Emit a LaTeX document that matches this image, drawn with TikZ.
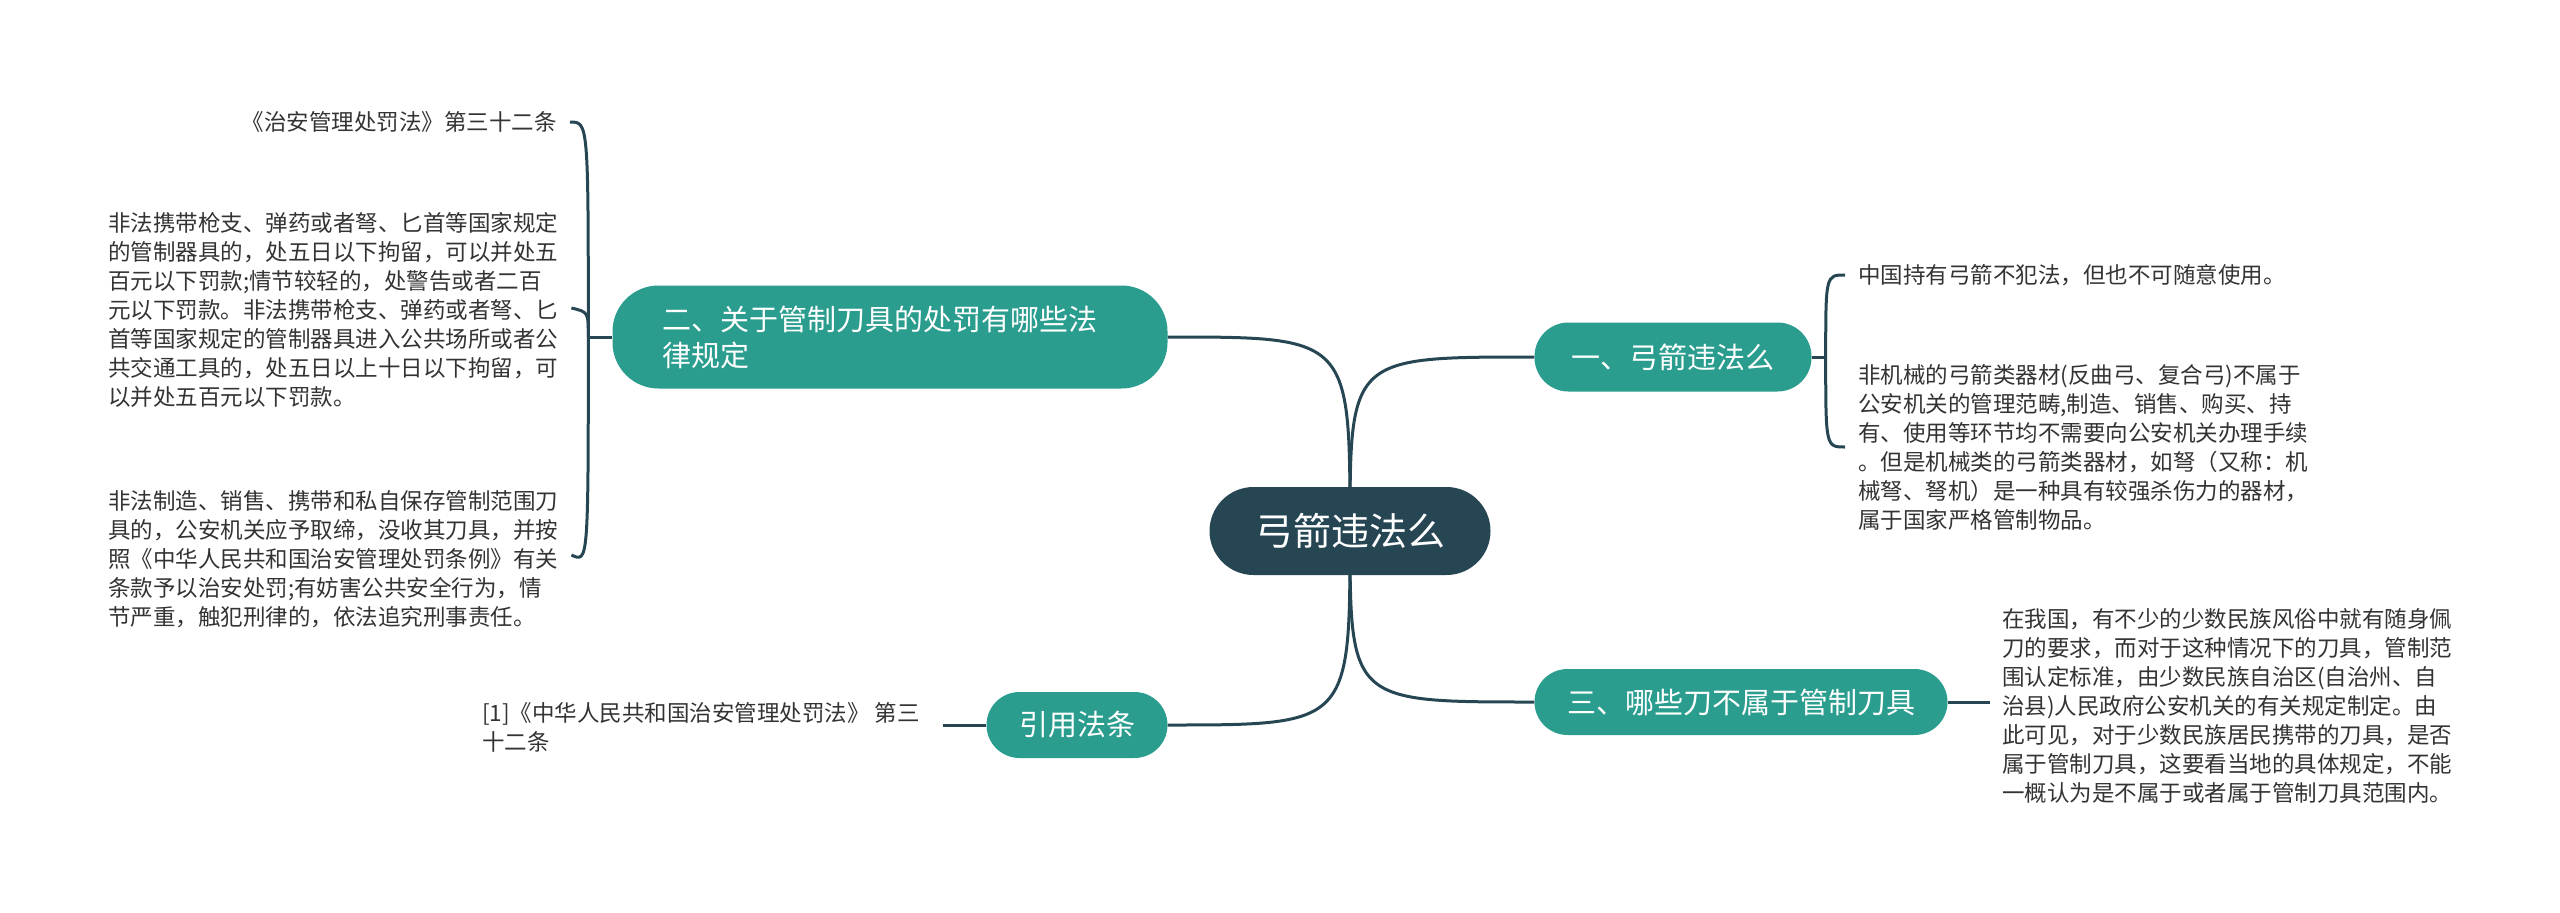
\documentclass[tikz,border=0pt]{standalone}
\usepackage{fontspec}
\newfontfamily\cjk{Noto Sans CJK SC}
\usepackage{tikz}
\usetikzlibrary{backgrounds,calc}
\definecolor{dunkel}{HTML}{264653}
\definecolor{petrol}{HTML}{2A9D8F}
\definecolor{schrift}{HTML}{333333}

\begin{document}
\begin{tikzpicture}[x=1pt, y=-1pt,
          kern/.style={fill=dunkel, text=white, rounded corners=44pt, minimum width=281pt, minimum height=88pt, inner sep=0pt, font=\cjk\fontsize{38}{44}\selectfont},
          ast/.style={fill=petrol, text=white, rounded corners=33pt, minimum height=66pt, inner sep=0pt, font=\cjk\fontsize{29}{36}\selectfont},
          blatt/.style={text=schrift, align=left, inner sep=0pt, font=\cjk\fontsize{22.5}{29}\selectfont},
          kante/.style={draw=dunkel, line width=3pt}
        ]
          \useasboundingbox (0,0) rectangle (2560,913);

          % Kern
          \node[kern] (kern) at (1350,531) {弓箭违法么};

          % Äste
          \node[ast, minimum width=277pt, minimum height=69pt, rounded corners=34pt] (a1) at (1673,357) {一、弓箭违法么};
          \node[ast, text width=455pt, align=left, inner xsep=50pt, minimum height=103pt, rounded corners=46pt] (a2) at (890,337) {二、关于管制刀具的处罚有哪些法\\律规定};
          \node[ast, minimum width=413pt] (a3) at (1741,702) {三、哪些刀不属于管制刀具};
          \node[ast, minimum width=181pt] (a4) at (1077,725) {引用法条};

          % Blätter rechts
          \node[blatt, anchor=west] (b11) at (1858,275) {中国持有弓箭不犯法，但也不可随意使用。};
          \node[blatt, anchor=west] (b12) at (1858,447) {非机械的弓箭类器材(反曲弓、复合弓)不属于\\公安机关的管理范畴,制造、销售、购买、持\\有、使用等环节均不需要向公安机关办理手续\\。但是机械类的弓箭类器材，如弩（又称：机\\械弩、弩机）是一种具有较强杀伤力的器材，\\属于国家严格管制物品。};
          \node[blatt, anchor=west] (b31) at (2002,706) {在我国，有不少的少数民族风俗中就有随身佩\\刀的要求，而对于这种情况下的刀具，管制范\\围认定标准，由少数民族自治区(自治州、自\\治县)人民政府公安机关的有关规定制定。由\\此可见，对于少数民族居民携带的刀具，是否\\属于管制刀具，这要看当地的具体规定，不能\\一概认为是不属于或者属于管制刀具范围内。};

          % Blätter links
          \node[blatt, anchor=east] (b21) at (557,122) {《治安管理处罚法》第三十二条};
          \node[blatt, anchor=west] (b22) at (108,310) {非法携带枪支、弹药或者弩、匕首等国家规定\\的管制器具的，处五日以下拘留，可以并处五\\百元以下罚款;情节较轻的，处警告或者二百\\元以下罚款。非法携带枪支、弹药或者弩、匕\\首等国家规定的管制器具进入公共场所或者公\\共交通工具的，处五日以上十日以下拘留，可\\以并处五百元以下罚款。};
          \node[blatt, anchor=west] (b23) at (108,559) {非法制造、销售、携带和私自保存管制范围刀\\具的，公安机关应予取缔，没收其刀具，并按\\照《中华人民共和国治安管理处罚条例》有关\\条款予以治安处罚;有妨害公共安全行为，情\\节严重，触犯刑律的，依法追究刑事责任。};
          \node[blatt, anchor=west] (b41) at (482,727) {[1]《中华人民共和国治安管理处罚法》 第三\\十二条};

          % Verzweigungen
          \coordinate (j1) at ([xshift=14pt]a1.east);
          \coordinate (j2) at ([xshift=-24pt]a2.west);
          \coordinate (e3) at ([xshift=42pt]a3.east);
          \coordinate (e4) at ([xshift=-43pt]a4.west);

          % Kanten
          \begin{scope}[on background layer]
            \draw[kante] (kern.center) .. controls (kern.center |- a1.west) .. (a1.west);
            \draw[kante] (kern.center) .. controls (kern.center |- a2.east) .. (a2.east);
            \draw[kante] (kern.center) .. controls (kern.center |- a3.west) .. (a3.west);
            \draw[kante] (kern.center) .. controls (kern.center |- a4.east) .. (a4.east);

            \draw[kante] (a1.east) -- (j1);
            \draw[kante] (j1) .. controls (j1 |- b11.west) .. ([xshift=-13pt]b11.west);
            \draw[kante] (j1) .. controls (j1 |- b12.west) .. ([xshift=-13pt]b12.west);

            \draw[kante] (a2.west) -- (j2);
            \draw[kante] (j2) .. controls (j2 |- b21.east) .. ([xshift=13pt]b21.east);
            \draw[kante] (j2) .. controls ([yshift=-2pt]j2 |- b22.east) .. ([shift={(13pt,2pt)}]b22.east);
            \draw[kante] (j2) .. controls ([yshift=-4pt]j2 |- b23.east) .. ([shift={(13pt,4pt)}]b23.east);

            \draw[kante] (a3.east) -- (e3);
            \draw[kante] (a4.west) -- (e4);
          \end{scope}
        \end{tikzpicture}
\end{document}
